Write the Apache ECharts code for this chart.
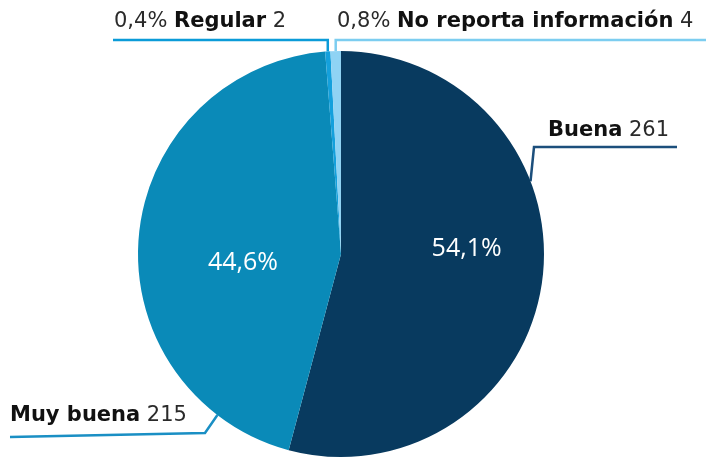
<!DOCTYPE html>
<html>
<head>
<meta charset="utf-8">
<script src="https://cdn.jsdelivr.net/npm/echarts@6/dist/echarts.min.js"></script>
<style>
  html, body { margin: 0; padding: 0; background: #ffffff; }
  #chart { width: 706px; height: 457px; }
</style>
</head>
<body>
<div id="chart"></div>
<script>
// datos de la encuesta
const categories = ['Buena', 'Muy buena', 'Regular', 'No reporta información']
const counts = [261, 215, 2, 4]

const sliceColors = ['#083a5f', '#0a8ab8', '#14a0dc', '#8fd3f4']
const lineColors = ['#1c4f7c', '#1a8fc4', '#0b9bd8', '#7ccdf0']

const total = counts.reduce((a, b) => a + b, 0)
const pct = v => (v / total * 100).toFixed(1).replace('.', ',') + '%'

// geometria del pastel
const CX = 341, CY = 254, R = 203
const edge = deg => {
  const a = deg * Math.PI / 180
  return [CX + R * Math.sin(a), CY - R * Math.cos(a)]
}

const chart = echarts.init(document.getElementById('chart'))

const FONT = 'DejaVu Sans'
const richText = {
  p: { fontFamily: FONT, fontSize: 21, color: '#2a2a2a' },
  b: { fontFamily: FONT, fontSize: 21, fontWeight: 'bold', color: '#111111' },
  n: { fontFamily: FONT, fontSize: 21, color: '#2a2a2a' }
}

const outsideLayout = params => {
  const i = params.dataIndex
  const start = params.labelLinePoints ? params.labelLinePoints[0] : [CX, CY - R]
  if (i === 0) {
    const s = edge(69)
    return { x: 548, y: 131, align: 'left', verticalAlign: 'middle',
      labelLinePoints: [s, [534, 147], [677, 147]] }
  }
  if (i === 1) {
    const s = edge(217.5)
    return { x: 10, y: 416, align: 'left', verticalAlign: 'middle',
      labelLinePoints: [s, [205, 433], [10, 437]] }
  }
  if (i === 2) {
    return { x: 114, y: 22, align: 'left', verticalAlign: 'middle',
      labelLinePoints: [start, [start[0], 40], [113, 40]] }
  }
  return { x: 337, y: 22, align: 'left', verticalAlign: 'middle',
    labelLinePoints: [start, [start[0], 40], [706, 40]] }
}

// desplazamiento de las etiquetas internas
const insideShift = [[22, -19], [6, 18]]

chart.setOption({
  animation: false,
  series: [
    {
      type: 'pie',
      center: [CX, CY],
      radius: R,
      startAngle: 90,
      clockwise: true,
      avoidLabelOverlap: false,
      data: categories.map((name, i) => ({
        name,
        value: counts[i],
        itemStyle: { color: sliceColors[i] },
        labelLine: { lineStyle: { color: lineColors[i], width: 2.5 } }
      })),
      label: {
        show: true,
        position: 'outside',
        formatter: p => {
          if (p.dataIndex < 2) return '{b|' + p.name + '}{n| ' + p.value + '}'
          return '{p|' + pct(p.value) + ' }{b|' + p.name + '}{n| ' + p.value + '}'
        },
        rich: richText
      },
      labelLine: { show: true, length: 10, length2: 10 },
      labelLayout: outsideLayout
    },
    {
      type: 'pie',
      center: [CX, CY],
      radius: R,
      startAngle: 90,
      clockwise: true,
      silent: true,
      data: categories.map((name, i) => ({
        name,
        value: counts[i],
        itemStyle: { color: 'rgba(0,0,0,0)' },
        label: { show: i < 2 }
      })),
      label: {
        position: 'inside',
        formatter: p => pct(p.value),
        fontFamily: 'Open Sans',
        fontSize: 25,
        color: '#ffffff'
      },
      labelLine: { show: false },
      labelLayout: p => {
        const s = insideShift[p.dataIndex] || [0, 0]
        return { dx: s[0], dy: s[1] }
      }
    }
  ]
})
</script>
</body>
</html>
